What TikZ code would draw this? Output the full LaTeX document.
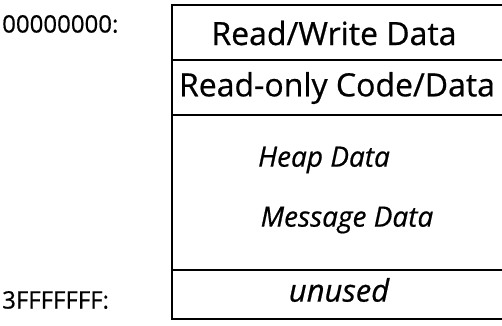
\documentclass[tikz,border=0pt]{standalone}
\usepackage{fontspec}
\setmainfont{Open Sans}[UprightFeatures={FakeBold=0.6},ItalicFeatures={FakeBold=0.6}]
\begin{document}
\begin{tikzpicture}[x=1pt,y=-1pt,
  addr/.style={inner sep=0pt,font=\fontsize{24}{28}\selectfont},
  lbl/.style={inner sep=0pt,font=\fontsize{32}{36}\selectfont},
  it/.style={inner sep=0pt,font=\fontsize{28}{32}\selectfont\itshape},
  itbig/.style={inner sep=0pt,font=\fontsize{31}{36}\selectfont\itshape},
  ln/.style={line width=1.5pt}]
\useasboundingbox (0,0) rectangle (502,325);
\coordinate (tl) at (172,5);
\coordinate (bl) at (172,319);
\coordinate (tr) at (510,5);
\coordinate (br) at (510,319);
\draw[ln] (tr) -- (tl) -- (bl) -- (br);
\draw[ln] (172,60) -- (510,60);
\draw[ln] (172,115) -- (510,115);
\draw[ln] (172,270) -- (510,270);
\node[addr,anchor=west] (a0) at (2,24) {00000000:};
\node[addr,anchor=west] (a1) at (2,300) {3FFFFFFF:};
\node[lbl] (rw) at (334,33) {Read/Write Data};
\node[lbl] (ro) at (337,88) {Read-only Code/Data};
\node[it] (hp) at (324,160) {Heap Data};
\node[it] (md) at (347,220) {Message Data};
\node[itbig] (un) at (339,290) {unused};
\end{tikzpicture}
\end{document}
